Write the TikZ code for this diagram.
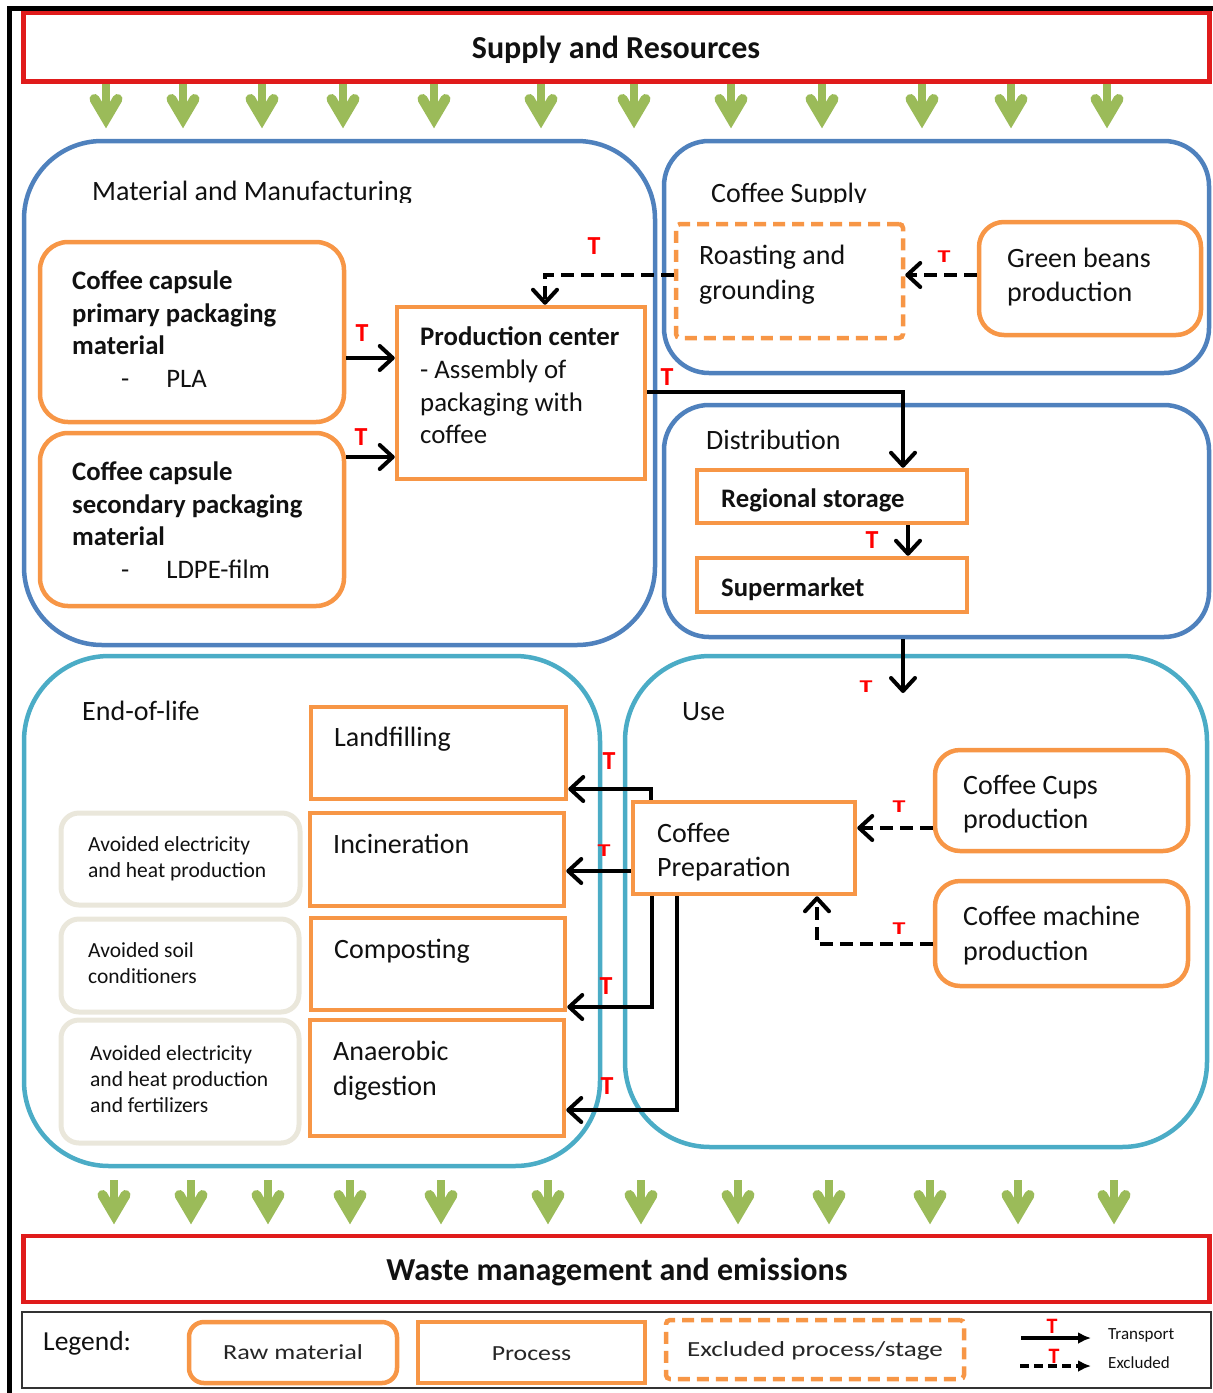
\documentclass[tikz,border=0pt]{standalone}
\usepackage{fontspec}
\setmainfont{Carlito}
\usetikzlibrary{arrows.meta,calc}

\definecolor{stagered}{HTML}{E01B1B}
\definecolor{grpblue}{HTML}{4F81BD}
\definecolor{grpteal}{HTML}{4BACC6}
\definecolor{boxorange}{HTML}{F79646}
\definecolor{avbeige}{HTML}{EAE7DB}
\definecolor{flowgreen}{HTML}{9BBB59}
\definecolor{tred}{HTML}{FF0000}
\definecolor{ink}{HTML}{111111}

\begin{document}
\begin{tikzpicture}[x=1pt,y=-1pt,
  wh/.style 2 args={minimum width=#1pt, minimum height=#2pt},
  stagebox/.style={draw=stagered, line width=4.5pt, inner sep=0},
  stagetxt/.style={anchor=base, inner sep=0, text=ink, font=\fontsize{32}{38}\selectfont\bfseries},
  grp/.style={line width=4.5pt, inner sep=0},
  rawbox/.style={draw=boxorange, line width=4.5pt, rounded corners=28pt, fill=white, inner sep=0},
  procbox/.style={draw=boxorange, line width=4.5pt, fill=white, inner sep=0},
  exclbox/.style={draw=boxorange, line width=4.5pt, dash pattern=on 12pt off 7pt,
    rounded corners=4pt, fill=white, inner sep=0},
  avbox/.style={draw=avbeige, line width=5pt, rounded corners=18pt, fill=white, inner sep=0},
  txb/.style={anchor=north west, align=left, inner sep=0, text=ink,
    font=\fontsize{26.7}{32.5}\selectfont\bfseries},
  txr/.style={anchor=north west, align=left, inner sep=0, text=ink,
    font=\fontsize{28}{34.5}\selectfont},
  lbl/.style={anchor=base west, inner sep=0, text=ink, font=\fontsize{28}{32}\selectfont},
  onebold/.style={anchor=base west, inner sep=0, text=ink, font=\fontsize{26.7}{32}\selectfont\bfseries},
  onereg/.style={anchor=base west, inner sep=0, text=ink, font=\fontsize{28}{32}\selectfont},
  avtxt/.style={anchor=north west, align=left, inner sep=0, text=ink,
    font=\fontsize{21.5}{26}\selectfont},
  lgtxt/.style={anchor=base, inner sep=0, text=black!85, font=\fontsize{21.5}{26}\selectfont},
  tbig/.style={anchor=base, inner sep=0, text=tred, font=\fontsize{26}{26}\selectfont\bfseries},
  tsmall/.style={anchor=base, inner sep=0, text=tred, font=\fontsize{18}{18}\selectfont\bfseries},
  flow/.style={draw=black, line width=4pt, -{Straight Barb[length=13pt,width=24pt,round]}},
  excl/.style={flow, dash pattern=on 13pt off 7pt},
  lgflow/.style={draw=black, line width=3.5pt, -{Latex[length=13pt,width=12pt]}},
  lgexcl/.style={lgflow, dash pattern=on 9pt off 5pt},
  gshaft/.style={draw=flowgreen, line width=8pt},
  ghead/.style={draw=flowgreen, line width=10pt, line cap=round, line join=miter},
]
\useasboundingbox (0,0) rectangle (1213,1393);

% outer frame lines
\draw[line width=5pt, line join=miter] (9,1393) -- (9,8) -- (1213,8);

% life-cycle stages at top and bottom
\node[stagebox, wh={1186}{68.5}] (supply) at (616.5,47.25) {};
\node[stagebox, wh={1186}{66}] (waste) at (616.5,1269) {};
\node[stagetxt] (supplyT) at (616,58.3) {Supply and Resources};
\node[stagetxt] (wasteT) at (617,1280.3) {Waste management and emissions};

% green flow arrows
\foreach \gx in {106,183,262,343,434,541,634,731,822,922,1011,1107}{
  \draw[gshaft] (\gx,84) -- (\gx,112);
  \draw[ghead] (\gx-11.5,99) -- (\gx,118.5) -- (\gx+11.5,99);
}
\foreach \gx in {114,191,268,350,441,548,641,738,829,930,1018,1114}{
  \draw[gshaft] (\gx,1180) -- (\gx,1208);
  \draw[ghead] (\gx-11.5,1195) -- (\gx,1214.5) -- (\gx+11.5,1195);
}

% group frames
\node[grp, draw=grpblue, rounded corners=78pt, wh={631}{504}] (mm) at (339.5,393) {};
\node[grp, draw=grpblue, rounded corners=45pt, wh={545}{232}] (cs) at (936.5,257) {};
\node[grp, draw=grpblue, rounded corners=45pt, wh={545}{232}] (dist) at (936.5,521) {};
\node[grp, draw=grpteal, rounded corners=85pt, wh={576}{510}] (eol) at (312,911) {};
\node[grp, draw=grpteal, rounded corners=85pt, wh={582}{491}] (use) at (916,901.5) {};

% group titles
\begin{scope}
  \clip (80,160) rectangle (440,202);
  \node[lbl] (mmT) at (92,200) {Material and Manufacturing};
\end{scope}
\begin{scope}
  \clip (700,160) rectangle (900,202);
  \node[lbl] (csT) at (711,202) {Coffee Supply};
\end{scope}
\node[lbl] (distT) at (706,449) {Distribution};
\node[lbl] (eolT) at (82,720) {End-of-life};
\node[lbl] (useT) at (682,720) {Use};

% material and manufacturing
\node[rawbox, wh={304}{180}] (prim) at (192,332) {};
\node[rawbox, wh={304}{173}] (sec) at (192,519.5) {};
\node[procbox, wh={248}{172}] (prod) at (521,393) {};

\node[txb] (primT) at (72,266.8) {\strut Coffee capsule\\primary packaging\\material\\
  \hspace*{49pt}\mdseries -\hspace*{37pt}PLA};
\node[txb] (secT) at (72,457.8) {\strut Coffee capsule\\secondary packaging\\material\\
  \hspace*{49pt}\mdseries -\hspace*{37pt}LDPE-film};
\node[txb, font=\fontsize{26.8}{32.7}\selectfont] (prodT) at (420,322.6)
  {\strut\textbf{Production center}\\- Assembly of\\packaging with\\coffee};

% coffee supply
\node[exclbox, wh={227}{114}] (roast) at (789.5,281) {};
\node[rawbox, rounded corners=25pt, wh={222}{113}] (green) at (1090,278.5) {};
\node[txr, font=\fontsize{28}{35}\selectfont] (roastT) at (699,239.5) {\strut Roasting and\\grounding};
\node[txr, font=\fontsize{28}{34}\selectfont] (greenT) at (1007,243.2) {\strut Green beans\\production};

% distribution
\node[procbox, wh={270}{53}] (reg) at (832,496.5) {};
\node[procbox, wh={270}{54}] (sup) at (832,585) {};
\node[onebold] (regT) at (721,507.5) {Regional storage};
\node[onebold] (supT) at (721,596.5) {Supermarket};

% end-of-life
\node[procbox, wh={255}{92}] (land) at (438.5,753) {};
\node[procbox, wh={254}{93}] (inc) at (437,859.5) {};
\node[procbox, wh={254}{92}] (comp) at (438,964) {};
\node[procbox, wh={254}{116}] (ad) at (437,1078) {};
\node[onereg] (landT) at (334,746) {Landfilling};
\node[onereg] (incT) at (333,853) {Incineration};
\node[onereg] (compT) at (334,958) {Composting};
\node[txr, font=\fontsize{28}{35}\selectfont] (adT) at (333,1035.5) {\strut Anaerobic\\digestion};

\node[avbox, wh={239}{92}] (av1) at (180.5,859) {};
\node[avbox, wh={238}{93}] (av2) at (180,965.5) {};
\node[avbox, wh={238}{123}] (av3) at (180,1081.5) {};
\node[avtxt] (av1T) at (88,832.7) {\strut Avoided electricity\\and heat production};
\node[avtxt] (av2T) at (88,938.7) {\strut Avoided soil\\conditioners};
\node[avtxt] (av3T) at (90,1041.7) {\strut Avoided electricity\\and heat production\\and fertilizers};

% use
\node[procbox, wh={222}{92}] (prep) at (744,848) {};
\node[rawbox, rounded corners=25pt, wh={253}{101}] (cups) at (1061.5,800.5) {};
\node[rawbox, rounded corners=25pt, wh={253}{105}] (mach) at (1061.5,933.5) {};
\node[txr, font=\fontsize{28}{34}\selectfont] (prepT) at (657,818.2) {\strut Coffee\\Preparation};
\node[txr, font=\fontsize{28}{34}\selectfont] (cupsT) at (963,770.2) {\strut Coffee Cups\\production};
\node[txr, font=\fontsize{28}{35}\selectfont] (machT) at (963,900.5) {\strut Coffee machine\\production};

% connectors
\coordinate (usein) at (903,693);
\draw[flow] (prim.east |- 0,358) -- (prod.west |- 0,358);
\draw[flow] (sec.east |- 0,457) -- (prod.west |- 0,457);
\draw[excl] (roast.west |- 0,275) -| (prod.north -| 545,0);
\draw[excl] (green.west |- 0,275) -- (roast.east |- 0,275);
\draw[flow] (prod.east |- 0,392) -| (reg.north -| 903,0);
\draw[flow] (reg.south -| 908,0) -- (sup.north -| 908,0);
\draw[flow] (dist.south -| 903,0) -- (usein);
\draw[excl] (cups.west |- 0,828) -- (prep.east |- 0,828);
\draw[excl] (mach.west |- 0,944) -| (prep.south -| 817,0);
\draw[flow] (prep.north -| 651,0) |- (land.east |- 0,789);
\draw[flow] (prep.west |- 0,871) -- (inc.east |- 0,871);
\draw[flow] (prep.south -| 652,0) |- (comp.east |- 0,1007);
\draw[flow] (prep.south -| 677,0) |- (ad.east |- 0,1110);

% transport marks
\node[tbig] (t1) at (594,254.4) {T};
\node[tbig] (t2) at (362,341.4) {T};
\node[tbig] (t3) at (361,445.4) {T};
\node[tsmall] (t4) at (944,262.8) {\scalebox{1.45}[1]{T}};
\node[tbig] (t5) at (667,385.4) {T};
\node[tbig] (t6) at (872,548.4) {T};
\node[tsmall] (t7) at (866,692.8) {\scalebox{1.45}[1]{T}};
\node[tbig] (t8) at (609,769.4) {T};
\node[tsmall] (t9) at (604,856.8) {\scalebox{1.45}[1]{T}};
\node[tbig] (t10) at (606,994.4) {T};
\node[tbig] (t11) at (607,1094.4) {T};
\node[tsmall] (t12) at (899,812.8) {\scalebox{1.45}[1]{T}};
\node[tsmall] (t13) at (899,934.8) {\scalebox{1.45}[1]{T}};

% legend
\node[draw=black!80, line width=1.5pt, wh={1189}{76}, inner sep=0] (legend) at (616.5,1350) {};
\node[anchor=base west, inner sep=0, text=ink, font=\fontsize{27.5}{32}\selectfont] (legT) at (43,1350) {Legend:};
\node[rawbox, rounded corners=15pt, wh={208}{61}] (lgraw) at (293,1352.5) {};
\node[procbox, wh={227}{61}] (lgproc) at (531.5,1352.5) {};
\node[exclbox, wh={298}{59}] (lgexc) at (815,1349.5) {};
\node[lgtxt] (lgrawT) at (293,1359.7) {\scalebox{1.22}[1]{Raw material}};
\node[lgtxt] (lgprocT) at (531.5,1360.7) {\scalebox{1.2}[1]{Process}};
\node[lgtxt] (lgexcT) at (815,1356.7) {\scalebox{1.26}[1]{Excluded process/stage}};
\coordinate (lgA) at (1021,1338);
\coordinate (lgB) at (1091,1338);
\coordinate (lgC) at (1020,1366);
\coordinate (lgD) at (1091,1366);
\draw[lgflow] (lgA) -- (lgB);
\draw[lgexcl] (lgC) -- (lgD);
\node[anchor=base, inner sep=0, text=tred, font=\fontsize{22}{22}\selectfont\bfseries] (lgT1) at (1052,1333) {T};
\node[anchor=base, inner sep=0, text=tred, font=\fontsize{22}{22}\selectfont\bfseries] (lgT2) at (1054,1363) {T};
\node[anchor=base west, inner sep=0, text=ink, font=\fontsize{17}{20}\selectfont] (lgtr) at (1108,1339) {Transport};
\node[anchor=base west, inner sep=0, text=ink, font=\fontsize{17}{20}\selectfont] (lgex) at (1108,1368) {Excluded};
\end{tikzpicture}
\end{document}
